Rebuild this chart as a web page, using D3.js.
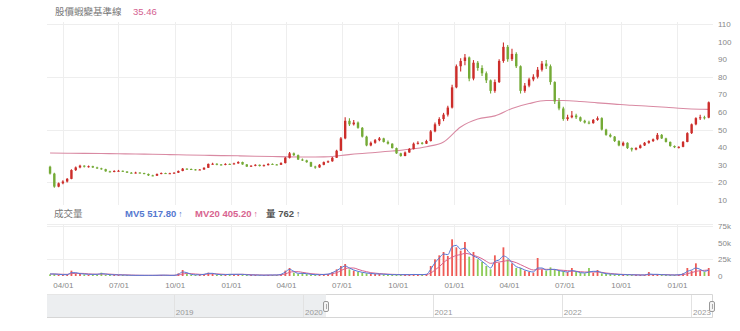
<!DOCTYPE html>
<html><head><meta charset="utf-8">
<script src="https://cdn.jsdelivr.net/npm/d3@7"></script>
<style>
html,body{margin:0;padding:0;background:#fff;}
svg{display:block;font-family:"Liberation Sans","Noto Sans CJK TC",sans-serif;}
</style></head><body>
<svg id="chart" width="740" height="331"></svg>
<script>
// Weekly candles, first week plotted at its mid-week date
const firstWeek = "2020-03-11";
const open = [28.9,25.0,17.6,19.5,20.5,22.0,27.0,28.5,29.5,29.0, 29.2,28.5,28.0,27.5,26.3,26.0,26.5,26.6,26.2,25.5, 25.3,25.6,25.3,24.8,24.0,23.8,24.8,25.3,25.0,25.2, 25.5,26.5,27.8,27.6,27.4,27.2,27.3,28.3,30.5,30.6, 30.2,30.0,30.5,30.4,30.8,31.6,30.2,29.0,29.5,30.0, 29.3,29.8,30.5,30.2,30.0,31.0,34.0,36.5,35.5,33.0, 32.5,31.5,29.0,28.5,30.0,31.5,32.0,34.0,38.0,45.0, 55.0,53.0,54.0,51.0,46.0,41.0,42.5,44.0,45.0,43.0, 42.0,39.5,36.5,35.0,37.0,39.0,42.0,42.5,42.0,43.5, 49.0,53.0,56.0,58.5,62.5,74.0,86.0,89.0,91.0,79.0, 88.0,85.0,82.0,78.0,72.0,77.0,89.0,97.0,90.0,93.0, 86.0,72.0,75.0,78.5,80.0,84.0,87.5,86.0,77.0,66.0, 62.0,56.0,57.0,58.0,57.0,55.0,54.0,53.7,55.5,56.5, 50.0,47.0,46.0,43.5,41.0,42.5,39.5,38.7,39.5,41.0, 42.5,43.5,44.5,47.0,45.0,43.0,40.7,40.0,40.2,43.0, 48.0,53.0,56.5,57.0,56.8];
const high = [29.5,25.5,20.0,21.2,22.5,27.5,29.0,30.0,29.8,29.6, 29.4,28.9,28.3,27.7,26.6,26.9,27.1,26.8,26.4,25.9, 26.0,25.8,25.5,25.0,24.3,25.0,25.6,25.5,25.5,25.8, 26.8,28.2,28.0,27.9,27.6,27.6,28.6,30.8,31.2,30.9, 30.4,30.9,30.8,31.1,32.0,31.8,30.4,29.8,30.3,30.2, 30.1,30.9,30.8,30.5,31.4,34.5,37.3,37.0,35.8,33.6, 32.9,31.7,29.4,30.4,31.9,32.5,34.5,38.5,45.8,57.0, 56.5,55.5,54.6,51.5,46.5,43.2,44.6,45.8,45.4,43.8, 42.3,39.8,36.8,37.5,39.6,42.6,43.4,43.0,44.2,49.8, 54.0,57.0,59.5,63.5,75.5,87.0,90.5,93.0,91.5,89.5, 89.0,86.5,83.0,78.5,78.5,90.0,99.5,98.0,96.0,94.0, 86.5,76.5,79.5,81.5,85.5,89.0,89.5,87.0,77.5,68.0, 63.0,58.5,60.5,59.0,57.5,55.6,55.0,56.0,57.5,57.0, 50.5,47.8,46.4,44.0,43.2,42.8,39.8,40.0,41.5,43.0, 44.0,45.0,48.0,47.5,45.3,43.3,41.0,40.6,43.5,48.5, 53.5,57.0,58.5,57.8,66.0];
const low = [24.5,17.0,17.2,19.0,20.0,21.8,26.5,28.0,28.5,28.4, 28.2,27.6,27.2,26.0,25.6,25.8,26.2,25.9,25.3,25.0, 25.1,25.0,24.6,23.7,23.5,23.7,24.6,24.8,24.8,25.0, 25.4,26.3,27.2,27.1,26.8,27.0,27.2,28.2,30.0,29.7, 29.6,29.8,30.0,30.2,30.6,30.0,28.7,28.8,29.2,29.0, 29.1,29.6,30.0,29.7,29.9,30.8,33.6,35.0,32.7,32.2, 31.2,28.7,27.8,28.3,29.8,31.0,31.8,33.8,37.8,44.5, 52.0,52.3,50.5,45.5,40.5,40.6,42.0,43.4,42.6,41.6, 39.2,36.2,34.6,34.8,36.8,38.7,41.6,41.5,41.8,43.2, 48.5,52.0,54.8,57.5,62.0,73.5,83.0,86.5,77.5,78.0, 83.5,80.5,76.5,70.5,71.0,76.5,88.0,88.5,89.0,85.0, 70.5,71.0,74.0,77.5,79.0,83.0,84.5,75.5,64.5,61.0, 55.0,55.0,56.5,56.0,54.5,53.5,53.0,53.3,55.0,49.5, 46.5,45.5,43.0,40.5,40.6,39.0,37.5,38.3,39.2,40.7, 42.0,43.0,44.0,44.6,42.6,40.3,39.5,39.2,40.0,42.8, 47.5,52.5,55.5,55.8,56.5];
const close = [25.0,17.6,19.5,20.5,22.0,27.0,28.5,29.5,29.0,29.2, 28.5,28.0,27.5,26.3,26.0,26.5,26.6,26.2,25.5,25.3, 25.6,25.3,24.8,24.0,23.8,24.8,25.3,25.0,25.2,25.5, 26.5,27.8,27.6,27.4,27.2,27.3,28.3,30.5,30.6,30.0, 30.0,30.5,30.4,30.8,31.6,30.2,29.0,29.5,30.0,29.3, 29.8,30.5,30.2,30.0,31.0,34.0,36.5,35.5,33.0,32.5, 31.5,29.0,28.5,30.0,31.5,32.0,34.0,38.0,45.0,55.0, 53.0,54.0,51.0,46.0,41.0,42.5,44.0,45.0,43.0,42.0, 39.5,36.5,35.0,37.0,39.0,42.0,42.5,42.0,43.5,49.0, 53.0,56.0,58.5,62.5,74.0,86.0,89.0,91.0,79.0,88.0, 85.0,82.0,78.0,72.0,77.0,89.0,97.0,90.0,93.0,86.0, 72.0,75.0,78.5,80.0,84.0,87.5,86.0,77.0,66.0,62.0, 56.0,57.0,58.0,57.0,55.0,54.0,53.7,55.5,56.5,50.0, 47.0,46.0,43.5,41.0,42.5,39.5,38.7,39.5,41.0,42.5, 43.5,44.5,47.0,45.0,43.0,40.7,40.0,40.2,43.0,48.0, 53.0,56.5,57.0,56.8,65.5];

// Daily trading volume per week (thousand lots) and its moving averages
const volume = [2.5,3,2,1.5,2,8,4,3,2.5,2, 3,2,5,2,2,1.5,1.5,1.5,1.2,1, 1,1,1,1,1,1.2,1.5,1,1,1, 4,9,3,2,1.5,2,3,5,4,2, 2,2,3,2,3,2,1.5,1.5,1.5,1.2, 1.2,1.5,1.5,1.5,3,8,12,5,3,5, 3,2,2,2,2.5,3,6,10,15,18, 10,8,6,5,4,3.5,3,3,2.5,2, 2,2,2,2,2,2.5,2,2,3,15, 25,31,36,30,55,43,38,51,29,36, 25,21,15,10,31,20,43,25,19,12, 12,8,6,5,27,10,8,13,10,8, 7,6,12,6,5,4,12,5,9,4, 3,3,2.5,2,2,2,1.5,1.5,1.5,1.5, 6,2,3,2,1.5,1.5,1.5,2,4,12, 8,19,8,6,12];
const mv5 = [3,3,2.5,2,2,5,5,3.5,3,2.5, 2.5,2.5,3.5,3,2,1.8,1.6,1.5,1.3,1.1, 1,1,1,1,1,1.1,1.3,1.2,1,1, 2.5,6,5,2.5,1.8,1.8,2.5,4,4,2.5, 2,2,2.5,2.5,2.5,2.5,1.8,1.5,1.5,1.3, 1.2,1.4,1.5,1.5,2.5,6,10,7,4,4, 3.5,2.5,2,2,2.3,2.8,5,8,12,15, 12,9,7,5.5,4.5,3.8,3.2,3,2.7,2.3, 2,2,2,2,2,2.3,2.2,2,2.5,10, 20,27,33,32,44,46,40,42,35,30, 27,22,17,12,22,24,30,27,20,14, 12,9,7,6,12,12,9,10,10,8, 7,6,8,7,5,4.5,6,7,7,5, 3.5,3,2.7,2.3,2,2,1.8,1.6,1.5,1.5, 3,2.5,2.5,2,1.7,1.5,1.5,1.8,3,7, 9,12,10,7,9];
const mv20 = [3,3,2.8,2.6,2.5,3.5,4,4,3.8,3.2, 2.8,2.7,3,3,2.8,2.4,2,1.8,1.6,1.4, 1.2,1.1,1,1,1,1,1.1,1.2,1.1,1.1, 1.5,3,3.8,3.5,3,2.5,2.3,3,3.3,3.2, 2.8,2.4,2.3,2.4,2.5,2.5,2.3,2,1.8,1.6, 1.4,1.4,1.4,1.5,1.8,3,5.5,6.5,6.5,5.5, 4.5,3.5,3,2.5,2.3,2.5,3.5,5,8,11, 12,12,10,8,6.5,5,4.3,3.7,3.2,2.8, 2.5,2.3,2.1,2,2,2.1,2.2,2.1,2.2,4.5, 9,14,20,25,28,31,32,34,33,31, 29,26,22,19,20,21,22,23,22,20, 17,14,11,9,10,10.5,10,10,9.5,9, 8.5,8,7.5,7,6.5,6,6,6,6,5.5, 4.5,3.8,3.2,2.7,2.4,2.2,2,1.8,1.7,1.6, 2,2,2.1,2.1,2,1.8,1.6,1.6,2,3.5, 5,7,8,8.5,9];

// Long-term base line, sampled every few weeks (week index, price)
const baseWeek = [0,4,8,12,16,20,24,28,32,36,40,44,48,52,56,60,64,68,72,76,80,84,88,92,96,100,104,108,112,116,120,124,128,132,136,140,144,148,152,154];
const baseValue = [36.7,36.6,36.5,36.4,36.3,36.1,36.0,35.8,35.6,35.4,35.2,35.1,34.9,34.7,34.5,34.4,34.5,35.3,36.3,37.0,37.8,38.8,40.3,43.0,51.5,56.0,57.8,62.0,64.8,66.5,66.5,66.0,65.2,64.5,63.8,63.3,62.7,62.0,61.6,61.5];

const priceTicks = [10,20,30,40,50,60,70,80,90,100,110];
const priceGrid = [20,50,80,110];
const volumeTicks = [0,25,50,75];
const volumeGrid = [25,75];
const quarterTicks = ["2020-04-01","2020-07-01","2020-10-01","2021-01-01","2021-04-01","2021-07-01","2021-10-01","2022-01-01","2022-04-01","2022-07-01","2022-10-01","2023-01-01"];
const yearTicks = ["2019-01-01","2020-01-01","2021-01-01","2022-01-01","2023-01-01"];
const viewRange = ["2020-03-06","2023-03-01"];
const navRange = ["2018-01-08","2023-03-01"];

const titleText = "股價蝦變基準線";
const titleValue = "35.46";
const volumeTitle = "成交量";
const legendItems = [
  {text:"MV5 517.80", color:"#5578cf", x:125},
  {text:"MV20 405.20", color:"#d8638f", x:195},
  {text:"量 762", color:"#555", x:266}
];

const UP = "#cc2d2a", DOWN = "#74aa36";
const VUP = "#ee5b55", VDOWN = "#8ccb55";

const parse = d3.timeParse("%Y-%m-%d");
const svg = d3.select("#chart");
svg.append("rect").attr("width",740).attr("height",331).attr("fill","#fff");

const x = d3.scaleTime().domain(viewRange.map(parse)).range([47, 713]);
const y = d3.scaleLinear().domain([10,110]).range([200, 24]);
const yv = d3.scaleLinear().domain([0,75]).range([276, 226]);

const start = parse(firstWeek);
const weeks = open.map((_, i) => d3.timeDay.offset(start, 7*i));
const candles = weeks.map((d, i) => ({date:d, o:open[i], h:high[i], l:low[i], c:close[i], v:volume[i], m5:mv5[i], m20:mv20[i]}));

// grid
const grid = svg.append("g").attr("stroke","#eeeeee").attr("stroke-width",1);
grid.selectAll(".hg").data(priceGrid).join("line")
  .attr("x1",47).attr("x2",713).attr("y1",d=>Math.round(y(d))+0.5).attr("y2",d=>Math.round(y(d))+0.5);
grid.selectAll(".vg").data(quarterTicks.map(parse)).join("line")
  .attr("x1",d=>Math.round(x(d))+0.5).attr("x2",d=>Math.round(x(d))+0.5).attr("y1",22).attr("y2",205);
grid.selectAll(".vg2").data(quarterTicks.map(parse)).join("line")
  .attr("x1",d=>Math.round(x(d))+0.5).attr("x2",d=>Math.round(x(d))+0.5).attr("y1",225).attr("y2",276);
grid.selectAll(".hv").data(volumeGrid).join("line")
  .attr("x1",47).attr("x2",713).attr("y1",d=>Math.round(yv(d))+0.5).attr("y2",d=>Math.round(yv(d))+0.5);
grid.append("line").attr("x1",47).attr("x2",713).attr("y1",224.5).attr("y2",224.5);

svg.append("clipPath").attr("id","plot").append("rect").attr("x",47).attr("y",0).attr("width",666).attr("height",280);
const plot = svg.append("g").attr("clip-path","url(#plot)");

// base line
const baseLine = d3.line().x(d=>x(weeks[d[0]])).y(d=>y(d[1])).curve(d3.curveMonotoneX);
plot.append("path").datum(baseWeek.map((w,i)=>[w, baseValue[i]]))
  .attr("d", baseLine).attr("fill","none").attr("stroke","#d98aa3").attr("stroke-width",1.1);

// candles
const cg = plot.append("g");
cg.selectAll("line").data(candles).join("line")
  .attr("x1",d=>x(d.date)).attr("x2",d=>x(d.date))
  .attr("y1",d=>y(d.h)).attr("y2",d=>y(d.l))
  .attr("stroke",d=>d.c>=d.o?UP:DOWN).attr("stroke-width",1.1);
cg.selectAll("rect").data(candles).join("rect")
  .attr("x",d=>x(d.date)-1.2).attr("width",2.4)
  .attr("y",d=>y(Math.max(d.o,d.c)))
  .attr("height",d=>Math.max(1, Math.abs(y(d.o)-y(d.c))))
  .attr("fill",d=>d.c>=d.o?UP:DOWN);

// volume bars
plot.append("g").selectAll("rect").data(candles).join("rect")
  .attr("x",d=>x(d.date)-0.9).attr("width",1.8)
  .attr("y",d=>yv(d.v)).attr("height",d=>yv(0)-yv(d.v))
  .attr("fill",d=>d.c>=d.o?VUP:VDOWN);

const mvLine = key => d3.line().x(d=>x(d.date)).y(d=>yv(d[key])).curve(d3.curveMonotoneX);
plot.append("path").datum(candles).attr("d",mvLine("m20")).attr("fill","none").attr("stroke","#d8638f").attr("stroke-width",1);
plot.append("path").datum(candles).attr("d",mvLine("m5")).attr("fill","none").attr("stroke","#5578d6").attr("stroke-width",1);

// axes
const styleAxis = g => {
  g.select(".domain").remove();
  g.selectAll("text").attr("fill","#888").attr("font-size",8).attr("font-family","Liberation Sans, sans-serif");
  g.selectAll("line").remove();
};
svg.append("g").attr("transform","translate(713,0)")
  .call(d3.axisRight(y).tickValues(priceTicks).tickSize(0).tickPadding(5)).call(styleAxis);
svg.append("g").attr("transform","translate(713,0)")
  .call(d3.axisRight(yv).tickValues(volumeTicks).tickSize(0).tickPadding(5).tickFormat(d=>d?d+"k":"0")).call(styleAxis);
svg.append("g").attr("transform","translate(0,279)")
  .call(d3.axisBottom(x).tickValues(quarterTicks.map(parse)).tickSize(0).tickPadding(3).tickFormat(d3.timeFormat("%m/%d"))).call(styleAxis);

// titles and legend
svg.append("text").attr("x",55).attr("y",15).attr("font-size",9.5).attr("fill","#777")
  .attr("font-family","Noto Sans CJK TC, sans-serif").text(titleText);
svg.append("text").attr("x",133).attr("y",15).attr("font-size",9.5).attr("fill","#d4608f").text(titleValue);
svg.append("text").attr("x",54).attr("y",216.5).attr("font-size",9.5).attr("fill","#777")
  .attr("font-family","Noto Sans CJK TC, sans-serif").text(volumeTitle);
legendItems.forEach(it => {
  const t = svg.append("text").attr("x",it.x).attr("y",216.5).attr("font-size",9.5).attr("font-weight",600).attr("fill",it.color);
  t.append("tspan").text(it.text);
  t.append("tspan").attr("dx",2).attr("font-weight",400).attr("font-size",8.5).text("↑");
});

// navigator
const nx = d3.scaleTime().domain(navRange.map(parse)).range([47, 712]);
const nav = svg.append("g");
nav.append("rect").attr("x",47).attr("y",294).attr("width",665).attr("height",24).attr("fill","#fff");
const hx = nx(parse(viewRange[0]));
nav.append("rect").attr("x",47).attr("y",294).attr("width",hx-47).attr("height",24).attr("fill","#eceef0");
nav.selectAll(".yt").data(yearTicks.map(parse)).join("line")
  .attr("x1",d=>Math.round(nx(d))+0.5).attr("x2",d=>Math.round(nx(d))+0.5).attr("y1",294).attr("y2",318)
  .attr("stroke","#e2e2e2");
nav.selectAll(".yl").data(yearTicks.map(parse)).join("text")
  .attr("x",d=>nx(d)+2).attr("y",315).attr("font-size",8).attr("fill","#999").text(d3.timeFormat("%Y"));
nav.append("path").attr("d",`M${hx},294.5 H712.5 V317.5 H47`).attr("fill","none").attr("stroke","#d6d6d6");
nav.append("line").attr("x1",47).attr("x2",hx).attr("y1",294.5).attr("y2",294.5).attr("stroke","#e6e6e6");
[hx, 712].forEach(h => {
  nav.append("rect").attr("x",Math.round(h)-2.5).attr("y",301.5).attr("width",5).attr("height",10).attr("rx",1.5)
    .attr("fill","#f4f4f4").attr("stroke","#999");
  nav.append("line").attr("x1",Math.round(h)+0.5).attr("x2",Math.round(h)+0.5).attr("y1",304).attr("y2",309).attr("stroke","#aaa");
});
</script>
</body></html>
